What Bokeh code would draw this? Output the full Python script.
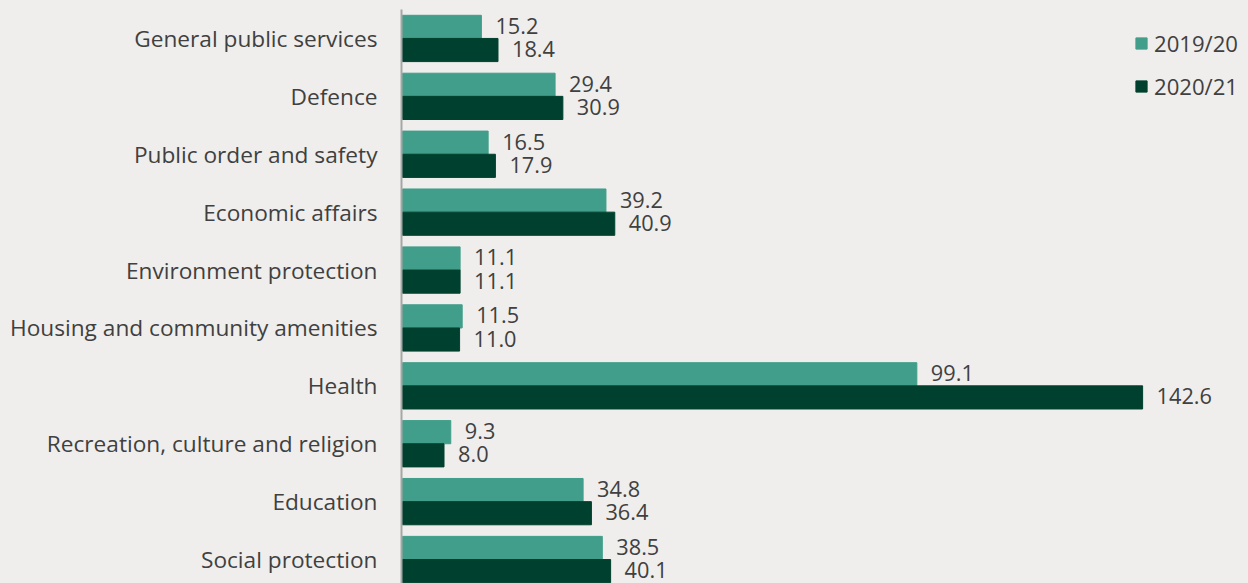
from bokeh.plotting import figure
from bokeh.models import Range1d, FixedTicker, Legend, LegendItem
from bokeh.embed import file_html
from bokeh.resources import INLINE
from bokeh.core.properties import value

categories = [
    "General public services",
    "Defence",
    "Public order and safety",
    "Economic affairs",
    "Environment protection",
    "Housing and community amenities",
    "Health",
    "Recreation, culture and religion",
    "Education",
    "Social protection",
]
series_names = ["2019/20", "2020/21"]
values_2019 = [15.2, 29.4, 16.5, 39.2, 11.1, 11.5, 99.1, 9.3, 34.8, 38.5]
values_2020 = [18.4, 30.9, 17.9, 40.9, 11.1, 11.0, 142.6, 8.0, 36.4, 40.1]

BG = "#efeeec"
LIGHT = "#409e8a"
DARK = "#00402e"
TXT = "#404040"
FONT = "Open Sans"

pos = list(range(len(categories)))
y_a = [i - 0.2 for i in pos]
y_b = [i + 0.2 for i in pos]

p = figure(
    width=1248, height=583,
    x_range=Range1d(-0.19, 163.0),
    y_range=Range1d(9.414, -0.5),
    x_axis_location=None,
    output_backend="svg", toolbar_location=None,
    min_border_left=401, min_border_right=0, min_border_top=9, min_border_bottom=0,
    background_fill_color=BG, border_fill_color=BG, outline_line_color=None,
)
p.grid.visible = False

r1 = p.hbar(y=y_a, right=values_2019, left=0, height=0.4, fill_color=LIGHT, line_color=LIGHT)
r2 = p.hbar(y=y_b, right=values_2020, left=0, height=0.4, fill_color=DARK, line_color=DARK)

p.text(x=values_2019, y=y_a, text=[f"{v:.1f}" for v in values_2019], x_offset=14, y_offset=-1,
       text_baseline="middle", text_align="left", text_font=value(FONT),
       text_font_size="16.3pt", text_color=TXT)
p.text(x=values_2020, y=y_b, text=[f"{v:.1f}" for v in values_2020], x_offset=14, y_offset=-1,
       text_baseline="middle", text_align="left", text_font=value(FONT),
       text_font_size="16.3pt", text_color=TXT)

ax = p.yaxis[0]
ax.ticker = FixedTicker(ticks=pos)
ax.major_label_overrides = {i: c for i, c in zip(pos, categories)}
ax.major_tick_out = 0
ax.major_tick_in = 0
ax.minor_tick_out = 0
ax.minor_tick_in = 0
ax.axis_line_color = "#a6a6a6"
ax.axis_line_width = 2
ax.major_label_standoff = 24
ax.major_label_text_font = FONT
ax.major_label_text_font_size = "17pt"
ax.major_label_text_color = TXT

legend = Legend(
    items=[LegendItem(label=series_names[0], renderers=[r1]),
           LegendItem(label=series_names[1], renderers=[r2])],
    location=(733, 482), orientation="vertical",
    glyph_width=14, glyph_height=14, label_height=30, spacing=13,
    padding=0, margin=0, label_standoff=6,
    label_text_font=FONT, label_text_font_size="16.6pt", label_text_color=TXT,
    background_fill_alpha=0, border_line_alpha=0,
)
p.add_layout(legend)

html = file_html(p, INLINE)
html = html.replace("</head>", "<style>body{background-color:#efeeec;}</style></head>", 1)
open("out.html", "w").write(html)
